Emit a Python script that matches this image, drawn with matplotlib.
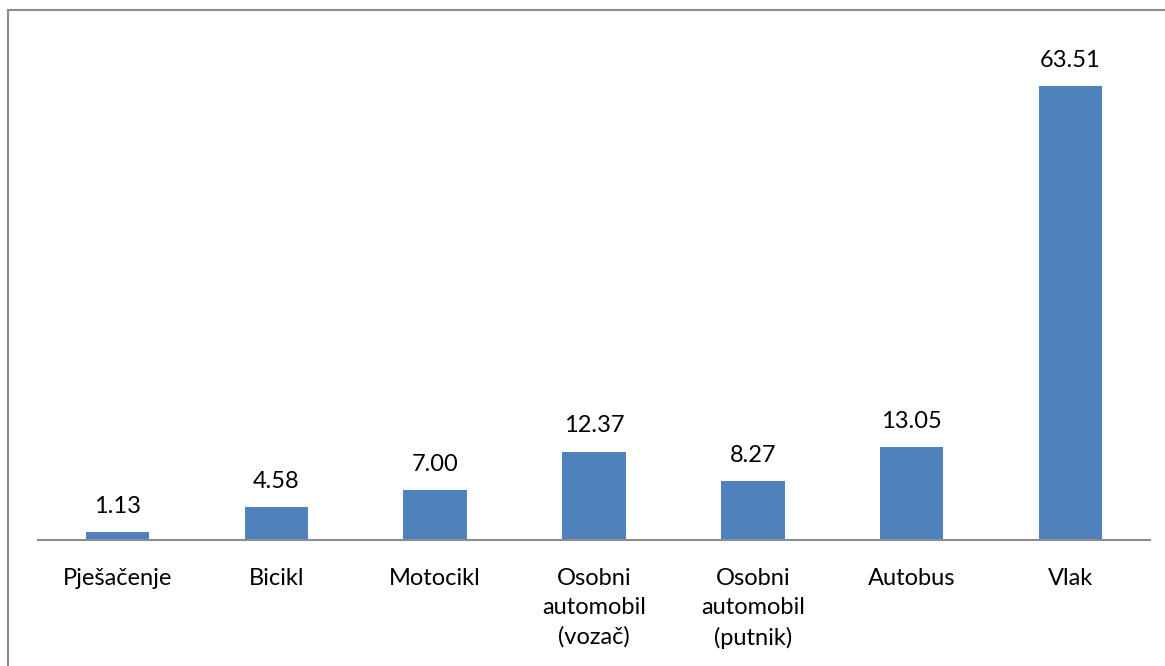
import numpy as np
import matplotlib.pyplot as plt
from matplotlib.patches import Rectangle

# Kategorije i vrijednosti
kategorije = ["Pješačenje", "Bicikl", "Motocikl", "Osobni\nautomobil\n(vozač)",
              "Osobni\nautomobil\n(putnik)", "Autobus", "Vlak"]
vrijednosti = [1.13, 4.58, 7.00, 12.37, 8.27, 13.05, 63.51]

plt.rcParams['font.family'] = ['Lato', 'DejaVu Sans']

fig = plt.figure(figsize=(11.65, 6.66), dpi=100)
ax = fig.add_axes([38/1165, 1 - 540/666, 1112/1165, 500/666])

x = np.arange(len(kategorije))
bars = ax.bar(x, vrijednosti, width=0.4, color="#4F81BD", zorder=2)

for xi, v in zip(x, vrijednosti):
    ax.annotate(f"{v:.2f}", (xi, v), xytext=(0, 11), textcoords="offset points",
                ha="center", va="bottom", fontsize=17, color="black")

ax.set_xlim(-0.5, len(kategorije) - 0.5)
ax.set_ylim(0, 70)
ax.set_xticks(x)
ax.set_xticklabels(kategorije, fontsize=17, linespacing=1.48, va="top")
ax.tick_params(axis="x", length=0, pad=20)
ax.set_yticks([])

for s in ["top", "right", "left"]:
    ax.spines[s].set_visible(False)
ax.spines["bottom"].set_color("#8c8c8c")
ax.spines["bottom"].set_linewidth(1.5)

# okvir grafikona
fig.patches.append(Rectangle((8/1165, -0.1), 1.2, 1 - 10/666 + 0.1,
                             transform=fig.transFigure, fill=False,
                             edgecolor="#8c8c8c", linewidth=1.5))

fig.savefig("out.png", dpi=100)
